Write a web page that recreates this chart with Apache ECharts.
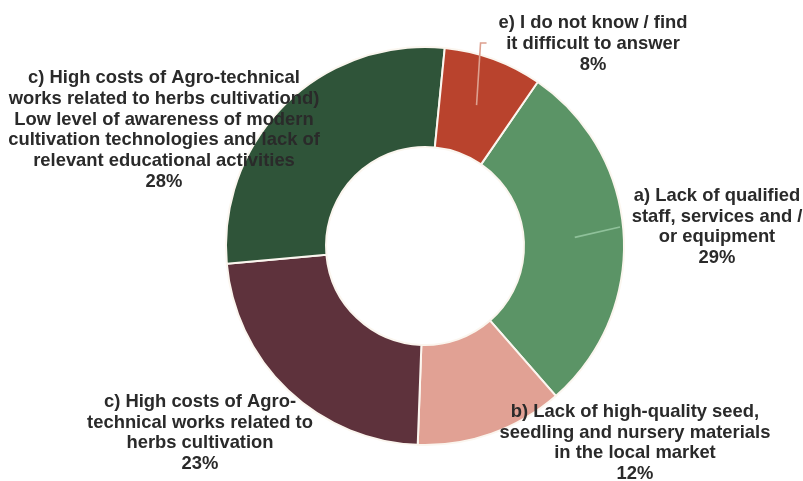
<!DOCTYPE html>
<html>
<head>
<meta charset="utf-8">
<script src="https://cdn.jsdelivr.net/npm/echarts@6/dist/echarts.min.js"></script>
<style>
  html, body { margin: 0; padding: 0; background: #ffffff; }
  #chart { width: 803px; height: 481px; }
</style>
</head>
<body>
<div id="chart"></div>
<script>
// Answer categories (label text as printed on the chart)
const categories = [
  'a) Lack of qualified\nstaff, services and /\nor equipment',
  'b) Lack of high-quality seed,\nseedling and nursery materials\nin the local market',
  'c) High costs of Agro-\ntechnical works related to\nherbs cultivation',
  'c) High costs of Agro-technical\nworks related to herbs cultivationd)\nLow level of awareness of modern\ncultivation technologies and lack of\nrelevant educational activities',
  'e) I do not know / find\nit difficult to answer'
];
// Share of respondents, %
const shares = [29, 12, 23, 28, 8];
const sliceColors = ['#5b9466', '#e1a194', '#5e323c', '#2f5439', '#b9432d'];

// Layout settings for the ring and its labels
const CENTER = [425, 246];
const RADII = [99, 199];
const START_ANGLE = 55.5;           // degrees, ECharts convention (90 = 12 o'clock)
const labelCenters = [[717, 227], [635, 443], [200, 433], [164, 130], [593, 44]];

// Mid angle (math convention, radians) of each slice, used for leader lines
const total = shares.reduce((s, v) => s + v, 0);
const midAngles = [];
{
  let acc = 0;
  shares.forEach(v => {
    const midDeg = START_ANGLE - (acc + v / 2) / total * 360;
    midAngles.push(midDeg * Math.PI / 180);
    acc += v;
  });
}
function polar(angle, r) {
  return [CENTER[0] + r * Math.cos(angle), CENTER[1] - r * Math.sin(angle)];
}

// Leader lines for slices a) and e), drawn over the ring
const aStart = polar(midAngles[0], 150);
const eStart = polar(midAngles[4], 150);
const leaderLines = [
  { points: [aStart, [620, labelCenters[0][1]]], color: '#8fc19a' },
  { points: [eStart, [eStart[0] + 4, labelCenters[4][1] - 1], [eStart[0] + 10, labelCenters[4][1] - 1]], color: '#dda08f' }
];

const chart = echarts.init(document.getElementById('chart'), null, { renderer: 'canvas' });

const data = categories.map((name, i) => ({
  name,
  value: shares[i],
  itemStyle: { color: sliceColors[i] }
}));

chart.setOption({
  backgroundColor: '#ffffff',
  animation: false,
  graphic: leaderLines.map(l => ({
    type: 'polyline',
    z: 100,
    shape: { points: l.points },
    style: { stroke: l.color, lineWidth: 1.6, fill: null }
  })),
  series: [{
    type: 'pie',
    center: CENTER,
    radius: RADII,
    startAngle: START_ANGLE,
    clockwise: true,
    avoidLabelOverlap: false,
    data,
    itemStyle: { borderColor: '#fbf6ef', borderWidth: 2 },
    label: {
      show: true,
      position: 'outside',
      formatter: p => p.name + '\n' + p.value + '%',
      fontFamily: 'Liberation Sans, Arial, sans-serif',
      fontWeight: 'bold',
      fontSize: 18.4,
      lineHeight: 20.8,
      color: '#2a2a2a',
      align: 'center'
    },
    labelLine: { show: false },
    labelLayout: params => {
      const c = labelCenters[params.dataIndex];
      return { x: c[0], y: c[1], align: 'center', verticalAlign: 'middle' };
    }
  }]
});
</script>
</body>
</html>
